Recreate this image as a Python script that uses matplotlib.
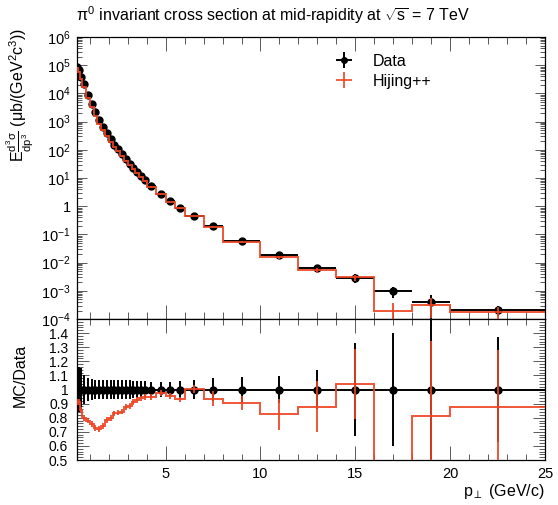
import numpy as np
import matplotlib
matplotlib.use("Agg")
import matplotlib.pyplot as plt
from matplotlib.ticker import MultipleLocator, LogLocator, FuncFormatter, NullFormatter, FormatStrFormatter

plt.rcParams["font.family"] = ["Liberation Sans", "DejaVu Sans"]
plt.rcParams["mathtext.fontset"] = "custom"
plt.rcParams["mathtext.rm"] = "Liberation Sans"
plt.rcParams["mathtext.it"] = "Liberation Sans"
plt.rcParams["mathtext.sf"] = "Liberation Sans"
plt.rcParams["mathtext.bf"] = "Liberation Sans:bold"

# pT bin edges (GeV/c)
bin_edges = [0.3, 0.4, 0.5, 0.6, 0.8, 1.0, 1.2, 1.4, 1.6, 1.8, 2.0, 2.2, 2.4, 2.6, 2.8,
             3.0, 3.2, 3.4, 3.6, 3.8, 4.0, 4.5, 5.0, 5.5, 6.0, 7.0, 8.0, 10.0, 12.0,
             14.0, 16.0, 18.0, 20.0, 25.0]

# data: E d3sigma/dp3 (mub/(GeV^2 c^3))
data_xsec = [8.9e4, 6.5e4, 3.7e4, 2.1e4, 8.7e3, 4.2e3, 2.2e3, 1.15e3, 660, 400,
             240, 150, 105, 69, 47, 32, 22, 16, 11.7, 8.5,
             5.2, 2.7, 1.5, 0.9, 0.45, 0.2, 0.06, 0.019, 0.0063, 0.0029,
             9.5e-4, 4.0e-4, 2.1e-4]
data_rel_err = [0.26, 0.16, 0.15, 0.10, 0.085, 0.075, 0.07, 0.07, 0.07, 0.07,
                0.07, 0.07, 0.07, 0.065, 0.065, 0.065, 0.06, 0.06, 0.06, 0.06,
                0.05, 0.05, 0.05, 0.06, 0.065, 0.08, 0.09, 0.095, 0.14, 0.33,
                0.40, 0.75, 0.37]

# Hijing++ / data
mc_ratio = [0.913, 0.91, 0.855, 0.796, 0.78, 0.755, 0.725, 0.718, 0.74, 0.784,
            0.796, 0.83, 0.836, 0.843, 0.878, 0.883, 0.913, 0.925, 0.937, 0.949,
            0.949, 0.973, 0.954, 0.93, 1.005, 0.935, 0.906, 0.826, 0.878, 1.039,
            0.20, 0.812, 0.878]
mc_ratio_err = [0.02, 0.02, 0.02, 0.02, 0.02, 0.02, 0.02, 0.02, 0.02, 0.02,
                0.02, 0.02, 0.02, 0.02, 0.02, 0.02, 0.02, 0.02, 0.02, 0.02,
                0.02, 0.02, 0.02, 0.02, 0.03, 0.055, 0.05, 0.11, 0.18, 0.25,
                0.18, 0.53, 0.40]

red = "#ee4422"

edges = np.array(bin_edges)
centers = 0.5 * (edges[1:] + edges[:-1])
half_w = 0.5 * np.diff(edges)
data = np.array(data_xsec)
rel = np.array(data_rel_err)
ratio = np.array(mc_ratio)
ratio_err = np.array(mc_ratio_err)
mc = data * ratio

fig = plt.figure(figsize=(5.58, 5.05), dpi=100)
ax1 = fig.add_axes([0.1371, 0.3683, 0.8396, 0.5584])
ax2 = fig.add_axes([0.1371, 0.0891, 0.8396, 0.2792])

# --- top panel: spectrum
h_data = ax1.errorbar(centers, data, xerr=half_w, yerr=data * rel, fmt="o", color="black",
                      ms=5, lw=1.4, capsize=0, zorder=3)
ax1.stairs(mc, edges, baseline=None, color=red, lw=1.4, alpha=0.9, zorder=4)
ax1.errorbar(centers, mc, yerr=data * ratio_err, fmt="none", ecolor=red, lw=1.4,
             alpha=0.9, zorder=4)
h_mc = ax1.errorbar([np.nan], [np.nan], xerr=[1], yerr=[1], fmt="none", ecolor=red, lw=1.2)

ax1.set_yscale("log")
ax1.set_xlim(0.3, 25)
ax1.set_ylim(1e-4, 1e6)
ax1.yaxis.set_major_locator(LogLocator(base=10, numticks=20))
ax1.yaxis.set_minor_locator(LogLocator(base=10, subs=[2, 3, 4, 5, 6, 7, 8, 9], numticks=20))
ax1.yaxis.set_minor_formatter(NullFormatter())
ax1.yaxis.set_major_formatter(FuncFormatter(
    lambda v, _: "1" if abs(v - 1) < 1e-9 else r"$10^{%d}$" % round(np.log10(v))))
ax1.xaxis.set_major_locator(MultipleLocator(5))
ax1.xaxis.set_minor_locator(MultipleLocator(1))
ax1.tick_params(which="both", direction="in", top=True, right=True, width=0.7,
                color="0.35", labelbottom=False, labelsize=10.5, pad=4)
ax1.tick_params(axis="x", which="major", length=10)
ax1.tick_params(axis="x", which="minor", length=5)
ax1.tick_params(axis="y", which="major", length=7)
ax1.tick_params(axis="y", which="minor", length=3.6)
ax1.set_ylabel(r"E$\frac{d^{3}\sigma}{dp^{3}}$ (μb/(GeV$^{2}$c$^{3}$))", fontsize=11.5, loc="top")
ax1.yaxis.set_label_coords(-0.086, 1.032)

ax1.legend([h_data, h_mc], ["Data", "Hijing++"], loc="upper left",
           bbox_to_anchor=(325 / 558, 1 - 54 / 505), bbox_transform=fig.transFigure,
           frameon=False, fontsize=11.5, handlelength=2.4, handletextpad=0.62,
           labelspacing=0.3, borderpad=0, borderaxespad=0, markerscale=0.8)

# --- bottom panel: ratio
ax2.errorbar(centers, np.ones_like(centers), xerr=half_w, yerr=rel, fmt="o", color="black",
             ms=5, lw=1.4, capsize=0, zorder=3)
ax2.stairs(ratio, edges, baseline=None, color=red, lw=1.4, alpha=0.9, zorder=4)
ax2.errorbar(centers, ratio, yerr=ratio_err, fmt="none", ecolor=red, lw=1.4, alpha=0.9, zorder=4)

ax2.set_xlim(0.3, 25)
ax2.set_ylim(0.5, 1.5)
ax2.set_yticks([0.5, 0.6, 0.7, 0.8, 0.9, 1.0, 1.1, 1.2, 1.3, 1.4])
ax2.yaxis.set_minor_locator(MultipleLocator(0.02))
ax2.yaxis.set_major_formatter(FormatStrFormatter("%g"))
ax2.xaxis.set_major_locator(MultipleLocator(5))
ax2.xaxis.set_minor_locator(MultipleLocator(1))
ax2.tick_params(which="both", direction="in", top=True, right=True, width=0.7,
                color="0.35", labelsize=10.5)
ax2.tick_params(axis="y", labelsize=10)
ax2.tick_params(axis="x", which="major", length=10, pad=5)
ax2.tick_params(axis="x", which="minor", length=4.3)
ax2.tick_params(axis="y", which="major", length=8.6, pad=6)
ax2.tick_params(axis="y", which="minor", length=4.3)
ax2.set_xlabel(r"p$_{\perp}$ (GeV/c)", fontsize=11.5, loc="right", labelpad=1)
ax2.set_ylabel("MC/Data", fontsize=11.5)
ax2.yaxis.set_label_coords(-0.103, 0.60)

for ax in (ax1, ax2):
    for s in ax.spines.values():
        s.set_linewidth(0.9)

fig.text(0.137, 1 - 15 / 505, r"$\pi^{0}$ invariant cross section at mid-rapidity at $\sqrt{s}$ = 7 TeV",
         fontsize=11.5, ha="left", va="center")

fig.savefig("out.png", dpi=100)
